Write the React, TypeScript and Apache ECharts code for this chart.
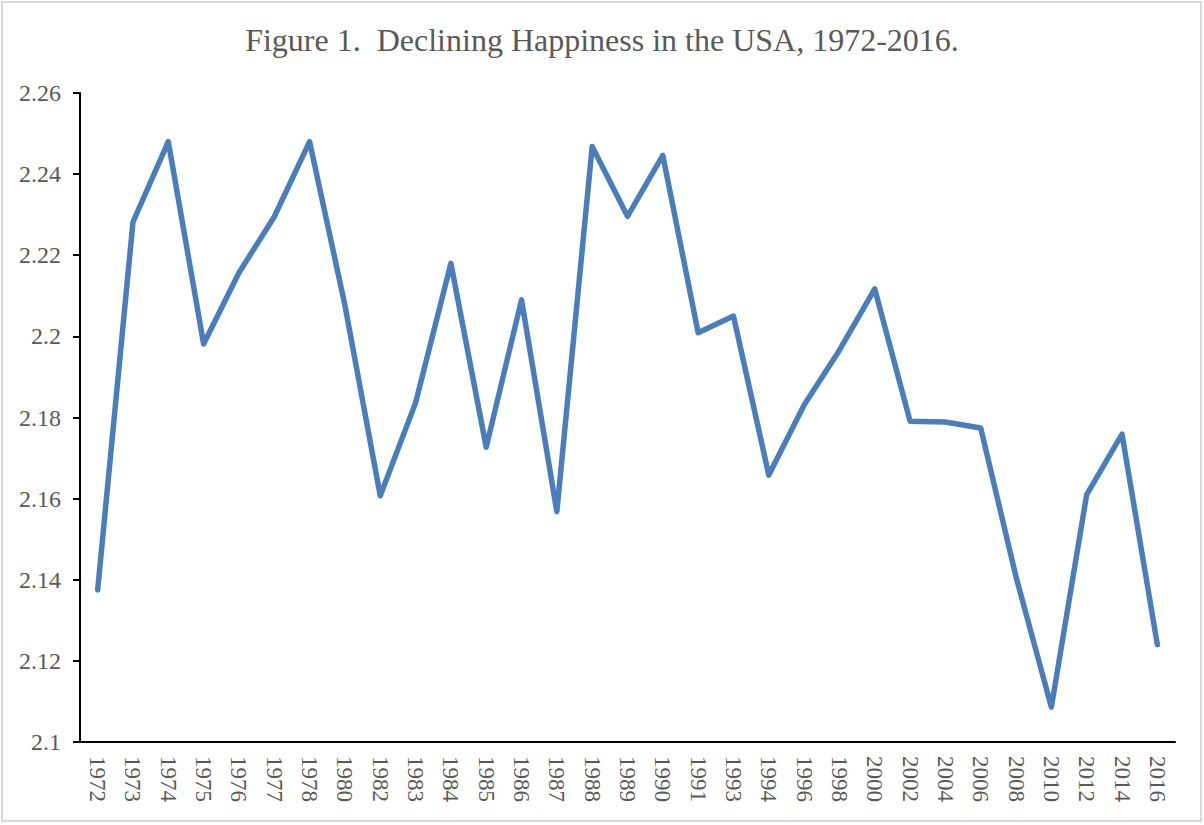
import React, { useEffect, useRef } from "react";
import * as echarts from "echarts";

const years = [
  "1972", "1973", "1974", "1975", "1976", "1977", "1978", "1980", "1982", "1983",
  "1984", "1985", "1986", "1987", "1988", "1989", "1990", "1991", "1993", "1994",
  "1996", "1998", "2000", "2002", "2004", "2006", "2008", "2010", "2012", "2014", "2016",
];

const happiness = [
  2.1375, 2.2282, 2.2480, 2.1981, 2.2157, 2.2295, 2.2480, 2.2077, 2.1607, 2.1836,
  2.2180, 2.1727, 2.2090, 2.1568, 2.2468, 2.2296, 2.2446, 2.2009, 2.2050, 2.1658,
  2.1831, 2.1966, 2.2117, 2.1791, 2.1789, 2.1774, 2.1407, 2.1086, 2.1610, 2.1759, 2.1240,
];

const titleText = "Figure 1.  Declining Happiness in the USA, 1972-2016.";
const serif = "'Liberation Serif', 'Times New Roman', serif";

export default function App() {
  const ref = useRef<HTMLDivElement>(null);

  useEffect(() => {
    document.body.style.margin = "0";
    if (!ref.current) return;
    const chart = echarts.init(ref.current, null, { renderer: "svg" });
    chart.setOption({
      animation: false,
      backgroundColor: "#ffffff",
      title: {
        text: titleText,
        left: "center",
        top: 19,
        textStyle: {
          fontFamily: serif,
          fontSize: 32,
          fontWeight: "normal",
          color: "#595959",
        },
      },
      graphic: [
        {
          type: "rect",
          shape: { x: 2, y: 2, width: 1199, height: 819 },
          style: { fill: "none", stroke: "#d9d9d9", lineWidth: 2 },
          silent: true,
        },
      ],
      grid: { left: 80, right: 29, top: 93, bottom: 83, containLabel: false },
      xAxis: {
        type: "category",
        data: years,
        boundaryGap: true,
        axisLine: { lineStyle: { color: "#000000", width: 2 } },
        axisTick: { inside: true, length: 6, lineStyle: { color: "#000000", width: 2 } },
        axisLabel: {
          rotate: -90,
          interval: 0,
          margin: 14,
          fontFamily: serif,
          fontSize: 23,
          color: "#595959",
        },
        splitLine: { show: false },
      },
      yAxis: {
        type: "value",
        min: 2.1,
        max: 2.26,
        interval: 0.02,
        axisLine: { show: true, lineStyle: { color: "#000000", width: 2 } },
        axisTick: { show: true, inside: false, length: 7, lineStyle: { color: "#000000", width: 2 } },
        axisLabel: {
          margin: 19,
          fontFamily: serif,
          fontSize: 24,
          color: "#595959",
          formatter: (v: number) => String(parseFloat(v.toFixed(2))),
        },
        splitLine: { show: false },
      },
      series: [
        {
          type: "line",
          data: happiness,
          showSymbol: false,
          symbol: "none",
          lineStyle: { color: "#4a7ebb", width: 5.5, cap: "round", join: "round" },
        },
      ],
    });
    return () => chart.dispose();
  }, []);

  return <div ref={ref} style={{ width: 1204, height: 825 }} />;
}
